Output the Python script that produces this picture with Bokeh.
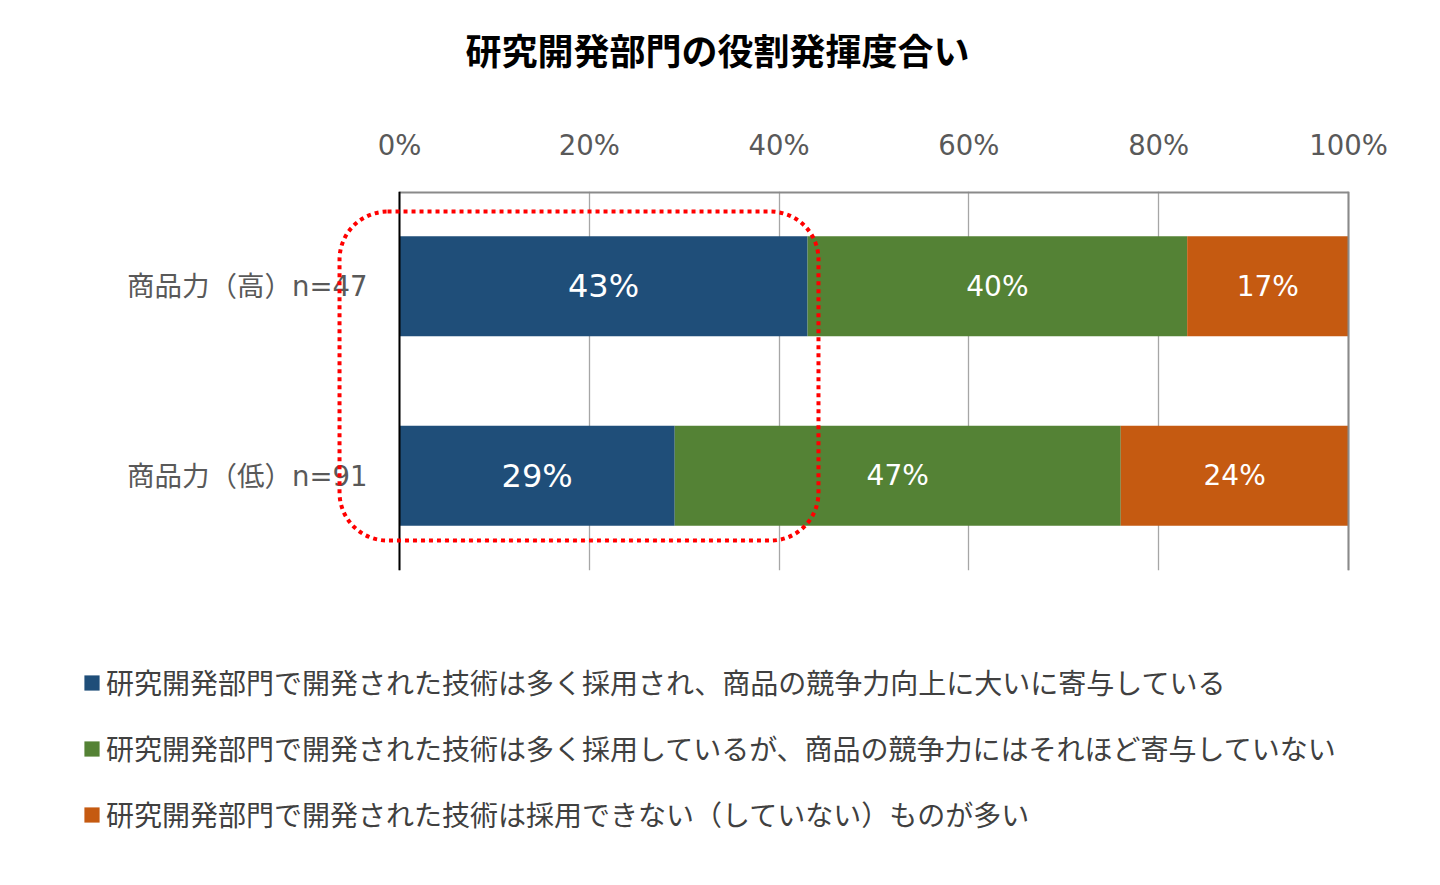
from bokeh.plotting import figure
from bokeh.layouts import column
from bokeh.models import (Range1d, FixedTicker, Legend, LegendItem, BoxAnnotation,
                          Label, ColumnDataSource, PrintfTickFormatter)
from bokeh.embed import file_html
from bokeh.resources import INLINE
from bokeh.core.properties import value

# ---------------- data ----------------
title_text = "研究開発部門の役割発揮度合い"
categories = ["商品力（高）n=47", "商品力（低）n=91"]
series_names = [
    "研究開発部門で開発された技術は多く採用され、商品の競争力向上に大いに寄与している",
    "研究開発部門で開発された技術は多く採用しているが、商品の競争力にはそれほど寄与していない",
    "研究開発部門で開発された技術は採用できない（していない）ものが多い",
]
high_contrib = [43, 29]
adopted_low_contrib = [40, 47]
not_adopted = [17, 24]
x_ticks = [0, 20, 40, 60, 80, 100]

# ---------------- styles ----------------
colors = ["#1F4E79", "#548235", "#C55A11"]
LATIN = "DejaVu Sans"
MIXED = "DejaVu Sans, Noto Sans CJK JP"
CJK = "Noto Sans CJK JP"

W = 1424
BL, BR = 84, 9            # frame spans the whole drawing width
X_START, X_END = -33.193, 107.06   # 0%..100% -> 399..1348 px

n = len(categories)
ypos = [n - 0.5 - i for i in range(n)]  # first category on top


def strip(h):
    f = figure(width=W, height=h, output_backend="svg", toolbar_location=None,
               x_range=Range1d(0, 1), y_range=Range1d(0, 1),
               min_border_left=BL, min_border_right=BR, min_border_top=0, min_border_bottom=0)
    f.axis.visible = False
    f.grid.visible = False
    f.outline_line_color = None
    return f


# ---------------- title strip ----------------
tf = strip(100)
tf.add_layout(Label(x=633, y=52, x_units="screen", y_units="screen", text=title_text,
                    text_font=CJK, text_font_size="36px", text_font_style="bold",
                    text_color="black", text_align="center", text_baseline="middle"))

# ---------------- chart ----------------
src = ColumnDataSource(dict(y=ypos, a=high_contrib, b=adopted_low_contrib, c=not_adopted))

p = figure(width=W, height=500, output_backend="svg", toolbar_location=None,
           x_range=Range1d(X_START, X_END), y_range=Range1d(0, n),
           x_axis_location="above",
           min_border_left=BL, min_border_right=BR,
           min_border_top=91, min_border_bottom=30)
p.outline_line_color = None
p.background_fill_color = "white"
p.border_fill_color = "white"

p.xgrid.ticker = FixedTicker(ticks=x_ticks)
p.xgrid.grid_line_color = "#A6A6A6"
p.xgrid.grid_line_width = 1.3
p.ygrid.visible = False

renderers = p.hbar_stack(["a", "b", "c"], y="y", height=0.527, color=colors,
                         line_color=None, source=src)

# segment labels
starts_b = list(high_contrib)
starts_c = [a + b for a, b in zip(high_contrib, adopted_low_contrib)]
lab_a = ColumnDataSource(dict(x=[v / 2 for v in high_contrib], y=ypos,
                              t=[f"{v}%" for v in high_contrib]))
lab_b = ColumnDataSource(dict(x=[s + v / 2 for s, v in zip(starts_b, adopted_low_contrib)], y=ypos,
                              t=[f"{v}%" for v in adopted_low_contrib]))
lab_c = ColumnDataSource(dict(x=[s + v / 2 for s, v in zip(starts_c, not_adopted)], y=ypos,
                              t=[f"{v}%" for v in not_adopted]))
p.text(x="x", y="y", text="t", source=lab_a, text_color="white", text_font=value(LATIN),
       text_font_size="32px", text_align="center", text_baseline="middle")
for s in (lab_b, lab_c):
    p.text(x="x", y="y", text="t", source=s, text_color="white", text_font=value(LATIN),
           text_font_size="28px", text_align="center", text_baseline="middle")

# x axis (above)
xa = p.xaxis[0]
xa.ticker = FixedTicker(ticks=x_ticks)
xa.formatter = PrintfTickFormatter(format="%d%%")
xa.major_tick_line_color = None
xa.minor_tick_line_color = None
xa.major_tick_out = 0
xa.major_tick_in = 0
xa.axis_line_color = None
xa.major_label_standoff = 31
xa.major_label_text_font = LATIN
xa.major_label_text_font_size = "27.5px"
xa.major_label_text_color = "#595959"

# plot-area border: top and right (0%..100%)
p.segment(x0=[0], x1=[100], y0=[n], y1=[n], line_color="#8A8A8A", line_width=4)
p.segment(x0=[100], x1=[100], y0=[0], y1=[n], line_color="#8A8A8A", line_width=2)

# y axis (labels pulled inside so they end just left of 0%)
ya = p.yaxis[0]
ya.ticker = FixedTicker(ticks=ypos)
ya.major_label_overrides = {y: c for y, c in zip(ypos, categories)}
ya.major_tick_line_color = None
ya.minor_tick_line_color = None
ya.major_tick_out = 0
ya.major_tick_in = 0
ya.axis_line_color = None
ya.major_label_standoff = -283
ya.major_label_text_font = MIXED
ya.major_label_text_font_size = "27.5px"
ya.major_label_text_color = "#595959"

# category axis line at 0%, limited to the plot area
p.segment(x0=[0], x1=[0], y0=[0], y1=[n], line_color="black", line_width=2)

# highlight box (decoration)
box = BoxAnnotation(left=-6.32, right=44.15, bottom=0.158, top=1.894,
                    fill_alpha=0, line_color="#FF0000", line_alpha=1, line_width=4,
                    line_dash="4 4", border_radius=48, level="overlay")
p.add_layout(box)

# ---------------- legend strip ----------------
lg = strip(269)
keys = [lg.hbar(y=[-5], left=[0], right=[0], height=0, color=c, line_color=None) for c in colors]
items = [LegendItem(label=series_names[i], renderers=[keys[i]]) for i in range(3)]
legend = Legend(items=items, location=(-2, 35), orientation="vertical",
                label_text_font=CJK, label_text_font_size="28px", label_text_color="#404040",
                glyph_width=19, glyph_height=19, label_standoff=5, spacing=26,
                padding=0, margin=0, border_line_color=None, background_fill_alpha=0)
lg.add_layout(legend)

layout = column(tf, p, lg, spacing=0)
open("out.html", "w").write(file_html(layout, INLINE))
